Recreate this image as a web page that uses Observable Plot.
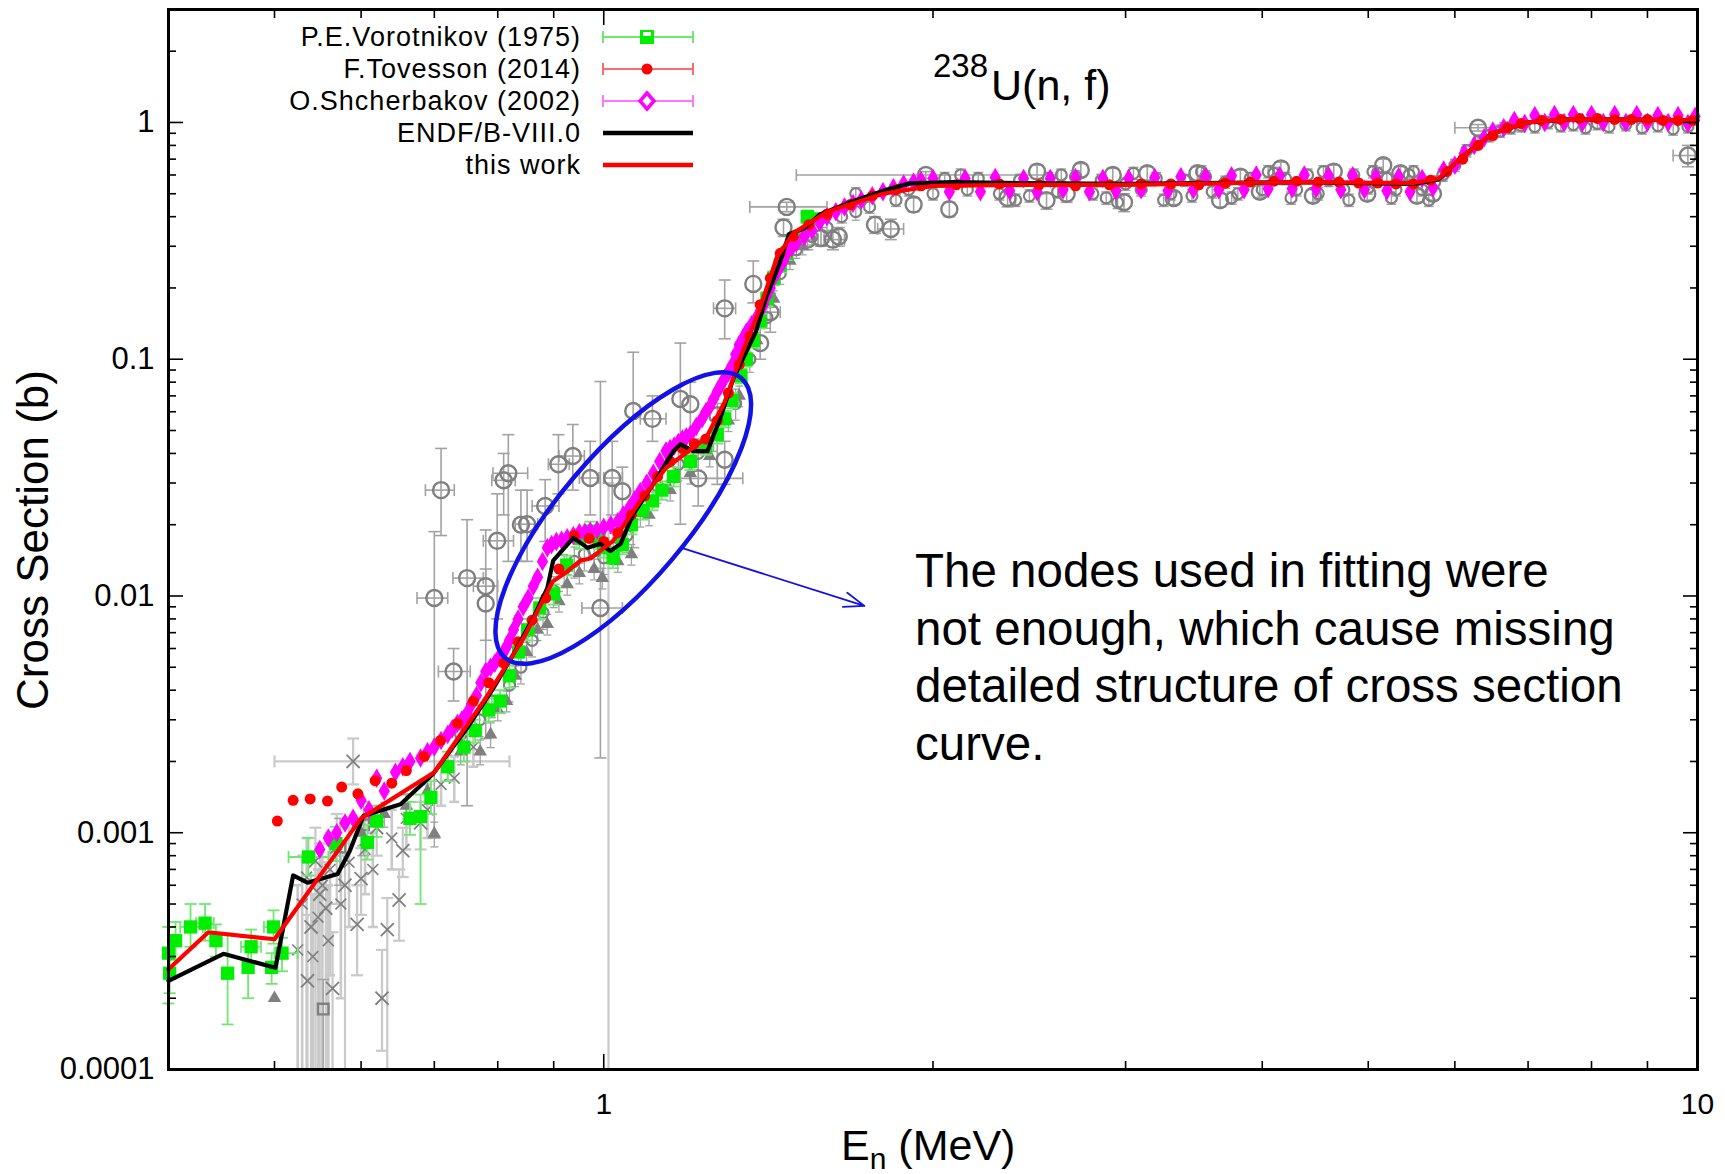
<!DOCTYPE html>
<html>
<head>
<meta charset="utf-8">
<script src="https://cdn.jsdelivr.net/npm/d3@7"></script>
<script src="https://cdn.jsdelivr.net/npm/@observablehq/plot@0.6"></script>
<style>
  html, body { margin: 0; padding: 0; background: #fff; }
  #chart { width: 1725px; height: 1174px; }
  #chart svg { display: block; }
</style>
</head>
<body>
<div id="chart"></div>
<script>
// ---------------- DATA ----------------
// "this work" evaluated curve (red line)
const thisWorkE  = [0.4, 0.435, 0.50, 0.60, 0.70, 0.78, 0.844, 0.898, 0.926, 0.952, 0.972, 1.02, 1.08, 1.14, 1.24, 1.29, 1.34, 1.39, 1.44, 1.49, 1.6, 1.8, 2.0, 2.4, 3.0, 4.3, 5.5, 5.8, 6.1, 6.5, 7.0, 7.6, 8.5, 10];
const thisWorkXS = [2.65e-4, 3.8e-4, 3.55e-4, 1.15e-3, 1.8e-3, 3.7e-3, 6.6e-3, 1.15e-2, 1.27e-2, 1.41e-2, 1.44e-2, 1.71e-2, 2.52e-2, 3.47e-2, 4.64e-2, 6.6e-2, 0.108, 0.165, 0.27, 0.34, 0.42, 0.50, 0.54, 0.545, 0.545, 0.56, 0.555, 0.58, 0.72, 0.9, 1.0, 1.03, 1.03, 1.02];

// ENDF/B-VIII.0 (black line)
const endfE  = [0.4, 0.449, 0.501, 0.52, 0.536, 0.571, 0.586, 0.603, 0.652, 0.698, 0.75, 0.793, 0.827, 0.862, 0.888, 0.899, 0.938, 0.966, 0.993, 1.014, 1.036, 1.064, 1.11, 1.158, 1.175, 1.207, 1.244, 1.278, 1.314, 1.378, 1.407, 1.447, 1.477, 1.525, 1.578, 1.69, 1.816, 1.905, 2.09, 2.4, 3.0, 4.3, 5.5, 5.8, 6.1, 6.5, 7.0, 7.6, 8.5, 10];
const endfXS = [2.37e-4, 3.08e-4, 2.69e-4, 6.6e-4, 6.15e-4, 6.7e-4, 8.4e-4, 1.18e-3, 1.32e-3, 1.77e-3, 2.77e-3, 4.09e-3, 5.69e-3, 8.07e-3, 1.08e-2, 1.41e-2, 1.76e-2, 1.6e-2, 1.66e-2, 1.55e-2, 1.66e-2, 2.22e-2, 2.97e-2, 4.09e-2, 4.38e-2, 4.09e-2, 4.09e-2, 5.64e-2, 8.3e-2, 0.131, 0.181, 0.252, 0.337, 0.357, 0.41, 0.465, 0.521, 0.553, 0.56, 0.555, 0.55, 0.56, 0.55, 0.575, 0.72, 0.9, 1.0, 1.03, 1.03, 1.02];

// P.E.Vorotnikov (1975): [E, xs, lo, hi, Elo, Ehi]
const vorotnikov = [
  [0.400, 3.1e-4, 1.9e-4, 4.0e-4, null, null],
  [0.401, 2.55e-4, 2.1e-4, 3.0e-4, null, null],
  [0.406, 3.5e-4, 2.9e-4, 4.2e-4, null, null],
  [0.419, 4.0e-4, 3.3e-4, 5.0e-4, 0.410, 0.430],
  [0.432, 4.15e-4, 3.5e-4, 5.0e-4, 0.424, 0.440],
  [0.442, 3.5e-4, 3.0e-4, 4.1e-4, null, null],
  [0.453, 2.55e-4, 1.55e-4, 3.75e-4, null, null],
  [0.473, 2.7e-4, 2.0e-4, 3.3e-4, null, null],
  [0.476, 3.3e-4, 2.8e-4, 3.9e-4, 0.466, 0.486],
  [0.497, 2.7e-4, 2.3e-4, 3.1e-4, null, null],
  [0.499, 4.0e-4, 3.4e-4, 4.7e-4, 0.489, 0.510],
  [0.508, 3.1e-4, 2.6e-4, 3.6e-4, 0.500, 0.525],
  [0.537, 7.9e-4, 6.6e-4, 9.5e-4, 0.515, 0.560],
  [0.569, 9.0e-4, 7.6e-4, 1.06e-3, null, null],
  [0.608, 9.1e-4, 7.7e-4, 1.08e-3, null, null],
  [0.620, 1.12e-3, 9.6e-4, 1.3e-3, null, null],
  [0.665, 1.15e-3, 9.8e-4, 1.35e-3, null, null],
  [0.680, 1.17e-3, 5.0e-4, 1.45e-3, null, null],
  [0.695, 1.41e-3, 1.2e-3, 1.65e-3, null, null],
  [0.720, 1.9e-3, 1.65e-3, 2.2e-3, null, null],
  [0.745, 2.3e-3, 2.0e-3, 2.6e-3, null, null],
  [0.763, 2.7e-3, 2.4e-3, 3.0e-3, null, null],
  [0.785, 3.3e-3, 2.95e-3, 3.7e-3, null, null],
  [0.804, 3.6e-3, 3.2e-3, 4.0e-3, null, null],
  [0.820, 4.6e-3, 4.1e-3, 5.1e-3, null, null],
  [0.836, 5.8e-3, 5.2e-3, 6.4e-3, null, null],
  [0.852, 7.2e-3, 6.5e-3, 8.0e-3, null, null],
  [0.874, 8.9e-3, 8.0e-3, 9.8e-3, null, null],
  [0.900, 1.02e-2, 9.2e-3, 1.12e-2, null, null],
  [0.925, 1.35e-2, 1.22e-2, 1.48e-2, null, null],
  [0.950, 1.75e-2, 1.58e-2, 1.92e-2, null, null],
  [0.972, 1.88e-2, 1.7e-2, 2.06e-2, null, null],
  [0.990, 1.75e-2, 1.58e-2, 1.92e-2, null, null],
  [1.000, 1.6e-2, 1.45e-2, 1.76e-2, null, null],
  [1.020, 1.45e-2, 1.31e-2, 1.6e-2, null, null],
  [1.040, 1.65e-2, 1.5e-2, 1.82e-2, null, null],
  [1.060, 2.0e-2, 1.82e-2, 2.2e-2, null, null],
  [1.085, 2.3e-2, 2.1e-2, 2.5e-2, null, null],
  [1.108, 2.52e-2, 2.3e-2, 2.75e-2, null, null],
  [1.130, 2.8e-2, 2.55e-2, 3.05e-2, null, null],
  [1.158, 3.2e-2, 2.9e-2, 3.5e-2, null, null],
  [1.200, 3.7e-2, 3.4e-2, 4.0e-2, null, null],
  [1.240, 4.3e-2, 3.95e-2, 4.65e-2, null, null],
  [1.270, 4.8e-2, 4.4e-2, 5.2e-2, null, null],
  [1.290, 5.6e-2, 5.15e-2, 6.05e-2, null, null],
  [1.310, 6.7e-2, 6.2e-2, 7.2e-2, null, null],
  [1.335, 8.5e-2, 7.9e-2, 9.1e-2, null, null],
  [1.350, 0.100, 0.093, 0.107, null, null],
  [1.370, 0.120, 0.112, 0.128, null, null],
  [1.390, 0.145, 0.135, 0.155, null, null],
  [1.410, 0.180, 0.168, 0.192, null, null],
  [1.430, 0.220, 0.205, 0.235, null, null],
  [1.450, 0.250, 0.233, 0.267, null, null],
  [1.470, 0.280, 0.262, 0.298, null, null],
  [1.510, 0.330, 0.31, 0.35, null, null],
  [1.535, 0.400, 0.375, 0.425, null, null],
  [1.560, 0.390, 0.365, 0.415, null, null]
];

// F.Tovesson (2014): [E, xs]
const tovesson = [
  [0.503,1.12e-3],[0.520,1.37e-3],[0.539,1.39e-3],[0.559,1.36e-3],[0.576,1.56e-3],[0.596,1.46e-3],[0.618,1.66e-3],[0.640,1.62e-3],
  [0.660,1.83e-3],[0.685,2.1e-3],[0.709,2.45e-3],[0.735,2.9e-3],[0.760,3.6e-3],[0.785,4.3e-3],[0.810,5.2e-3],[0.835,6.4e-3],
  [0.860,7.9e-3],[0.885,9.8e-3],[0.910,1.3e-2],[0.940,1.8e-2],[0.970,1.75e-2],[1.000,1.7e-2],[1.030,1.85e-2],[1.060,2.2e-2],
  [1.090,2.65e-2],[1.120,3.2e-2],[1.150,3.7e-2],[1.180,4.2e-2],[1.210,4.4e-2],[1.240,4.6e-2],[1.270,5.5e-2],[1.300,7.2e-2],
  [1.330,9.5e-2],[1.360,0.125],[1.390,0.17],[1.420,0.22],[1.450,0.28],[1.490,0.33],[1.540,0.37],[1.600,0.41],[1.680,0.45],
  [1.760,0.49],[1.850,0.52],[1.950,0.54],[2.10,0.545],[2.30,0.55],[2.50,0.545],[2.70,0.54],[2.90,0.545],[3.10,0.55],[3.30,0.55],
  [3.50,0.545],[3.70,0.555],[3.90,0.56],[4.10,0.565],[4.30,0.565],[4.50,0.56],[4.70,0.56],[4.90,0.555],[5.10,0.555],[5.30,0.55],
  [5.50,0.55],[5.70,0.57],[5.90,0.62],[6.10,0.70],[6.30,0.80],[6.50,0.88],[6.70,0.95],[6.90,0.99],[7.20,1.02],[7.50,1.03],
  [7.80,1.04],[8.10,1.04],[8.40,1.03],[8.70,1.03],[9.00,1.03],[9.30,1.02],[9.60,1.02],[9.90,1.02]
];

// O.Shcherbakov (2002): [E, xs]
const shcherbakov = [
  [0.55,8.5e-4],[0.56,9.5e-4],[0.57,1.0e-3],[0.58,1.1e-3],[0.59,1.15e-3],[0.60,1.37e-3],[0.61,1.25e-3],[0.62,1.7e-3],[0.63,1.5e-3],
  [0.645,1.8e-3],[0.655,1.9e-3],[0.665,2.0e-3],[0.68,2.07e-3],[0.69,2.2e-3],[0.70,2.3e-3],[0.71,2.45e-3],[0.72,2.6e-3],
  [0.727,2.75e-3],[0.735,2.9e-3],[0.742,3.0e-3],[0.75,3.2e-3],[0.757,3.5e-3],[0.765,3.8e-3],[0.772,4.3e-3],[0.78,4.8e-3],
  [0.788,5.0e-3],[0.795,5.2e-3],[0.802,5.5e-3],[0.81,5.8e-3],[0.815,6.1e-3],[0.82,6.5e-3],[0.827,7.2e-3],[0.835,8.0e-3],
  [0.844,9.0e-3],[0.853,9.8e-3],[0.862,1.1e-2],[0.87,1.2e-2],[0.879,1.4e-2],[0.888,1.6e-2],[0.896,1.65e-2],[0.905,1.7e-2],
  [0.915,1.72e-2],[0.926,1.76e-2],[0.938,1.8e-2],[0.95,1.85e-2],[0.961,1.86e-2],[0.972,1.88e-2],[0.986,1.9e-2],[1.0,1.95e-2],
  [1.015,2.0e-2],[1.03,2.06e-2],[1.042,2.2e-2],[1.055,2.35e-2],[1.067,2.55e-2],[1.08,2.76e-2],[1.095,3.0e-2],[1.11,3.3e-2],
  [1.125,3.7e-2],[1.14,4.1e-2],[1.15,4.2e-2],[1.16,4.3e-2],[1.17,4.45e-2],[1.18,4.6e-2],[1.19,4.7e-2],[1.2,4.8e-2],
  [1.215,5.2e-2],[1.23,5.6e-2],[1.24,6.0e-2],[1.25,6.3e-2],[1.26,6.8e-2],[1.27,7.3e-2],[1.28,7.8e-2],[1.29,8.3e-2],
  [1.30,8.8e-2],[1.31,9.4e-2],[1.32,0.105],[1.33,0.115],[1.34,0.122],[1.35,0.13],[1.365,0.14],[1.38,0.15],[1.39,0.16],
  [1.40,0.17],[1.41,0.185],[1.42,0.2],[1.43,0.22],[1.445,0.24],[1.46,0.26],[1.47,0.28],[1.485,0.295],[1.5,0.31],
  [1.525,0.33],[1.55,0.35],[1.575,0.38],[1.6,0.40],[1.63,0.42],[1.66,0.44],[1.69,0.455],[1.72,0.47],[1.76,0.49],[1.8,0.51],
  [1.84,0.53],[1.88,0.55],[1.92,0.56],[1.95,0.57],
  [2.0,0.58],[2.07,0.51],[2.14,0.58],[2.21,0.51],[2.28,0.585],[2.35,0.515],[2.42,0.58],[2.49,0.51],[2.56,0.58],[2.63,0.52],
  [2.7,0.585],[2.78,0.51],[2.86,0.58],[2.94,0.515],[3.02,0.58],[3.1,0.52],[3.19,0.585],[3.28,0.515],[3.37,0.59],[3.46,0.52],
  [3.55,0.59],[3.65,0.52],[3.75,0.595],[3.85,0.52],[3.95,0.60],[4.05,0.525],[4.15,0.595],[4.26,0.525],[4.37,0.60],[4.48,0.525],
  [4.6,0.595],[4.72,0.52],[4.84,0.595],[4.96,0.52],[5.08,0.59],[5.2,0.515],[5.33,0.59],[5.46,0.51],[5.6,0.58],[5.73,0.53],
  [5.86,0.63],[6.0,0.66],[6.12,0.74],[6.25,0.80],[6.38,0.86],[6.5,0.92],[6.65,0.95],[6.8,1.02],[6.95,0.99],[7.1,1.07],
  [7.25,1.0],[7.4,1.08],[7.55,1.0],[7.7,1.08],[7.85,1.0],[8.0,1.08],[8.2,1.0],[8.4,1.08],[8.6,1.0],[8.8,1.08],[9.0,1.0],
  [9.2,1.07],[9.4,1.0],[9.6,1.07],[9.8,0.99],[9.95,1.06]
];

// Other experiments (grey), open circles: [E, xs, lo, hi, Elo, Ehi]
const grayCircles = [
  [0.710, 0.028, 0.018, 0.042, 0.687, 0.730],
  [0.700, 0.0098, 0.00095, 0.0187, 0.675, 0.720],
  [0.729, 0.0048, 0.0036, 0.0060, 0.706, 0.755],
  [0.750, 0.0119, 0.0013, 0.021, 0.728, 0.776],
  [0.780, 0.0110, 0.0025, 0.019, 0.760, 0.800],
  [0.780, 0.0093, 0.0065, 0.013, null, null],
  [0.799, 0.0171, 0.008, 0.027, 0.776, 0.827],
  [0.818, 0.033, 0.014, 0.048, 0.792, 0.852],
  [0.810, 0.0308, 0.022, 0.040, 0.790, 0.830],
  [0.840, 0.020, 0.014, 0.028, null, null],
  [0.851, 0.0201, 0.014, 0.028, 0.830, 0.870],
  [0.884, 0.024, 0.017, 0.031, 0.860, 0.910],
  [0.909, 0.036, 0.027, 0.048, 0.890, 0.930],
  [0.937, 0.039, 0.028, 0.053, 0.910, 0.960],
  [0.972, 0.0315, 0.022, 0.045, 0.950, 0.990],
  [1.018, 0.0315, 0.022, 0.045, 1.000, 1.040],
  [0.993, 0.0089, 0.00207, 0.0805, 0.955, 1.040],
  [1.040, 0.0277, 0.020, 0.035, null, null],
  [1.064, 0.0604, 0.016, 0.107, null, null],
  [1.108, 0.056, 0.045, 0.070, 1.080, 1.140],
  [1.175, 0.068, 0.0201, 0.117, null, null],
  [1.200, 0.0645, 0.050, 0.080, null, null],
  [1.270, 0.058, 0.0296, 0.065, null, null],
  [1.220, 0.0314, 0.024, 0.040, 1.160, 1.340],
  [1.290, 0.0376, 0.0296, 0.045, null, null],
  [1.290, 0.164, 0.122, 0.216, 1.260, 1.320],
  [1.370, 0.208, 0.173, 0.260, null, null],
  [1.420, 0.158, 0.130, 0.190, 1.390, 1.450],
  [1.390, 0.117, 0.100, 0.135, null, null],
  [1.460, 0.360, 0.330, 0.390, null, null],
  [1.470, 0.440, 0.420, 0.460, 1.360, 1.600],
  [1.535, 0.320, 0.290, 0.350, 1.500, 1.570],
  [1.580, 0.325, 0.300, 0.360, null, null],
  [1.620, 0.320, 0.290, 0.350, 1.590, 1.660],
  [1.640, 0.330, 0.300, 0.360, null, null],
  [1.770, 0.370, 0.340, 0.400, null, null],
  [1.830, 0.355, 0.320, 0.390, 1.780, 1.880],
  [1.920, 0.450, 0.420, 0.480, null, null],
  [1.970, 0.600, 0.580, 0.620, 1.500, 2.600],
  [2.070, 0.430, 0.400, 0.460, null, null],
  [2.34, 0.48, 0.44, 0.52, null, null],
  [2.49, 0.62, 0.58, 0.66, null, null],
  [2.54, 0.47, 0.43, 0.50, null, null],
  [2.65, 0.50, 0.46, 0.54, null, null],
  [2.73, 0.63, 0.59, 0.67, null, null],
  [2.92, 0.60, 0.56, 0.64, null, null],
  [2.99, 0.46, 0.42, 0.50, null, null],
  [3.14, 0.61, 0.57, 0.65, null, null],
  [3.32, 0.48, 0.45, 0.51, null, null],
  [3.49, 0.61, 0.57, 0.65, null, null],
  [3.66, 0.47, 0.44, 0.50, null, null],
  [3.82, 0.59, 0.55, 0.63, null, null],
  [3.98, 0.51, 0.48, 0.54, null, null],
  [4.16, 0.64, 0.60, 0.68, null, null],
  [4.45, 0.49, 0.46, 0.52, null, null],
  [4.65, 0.62, 0.58, 0.66, null, null],
  [4.99, 0.50, 0.47, 0.53, null, null],
  [5.16, 0.66, 0.62, 0.70, null, null],
  [5.35, 0.61, 0.57, 0.65, null, null],
  [5.54, 0.49, 0.46, 0.52, null, null],
  [5.73, 0.50, 0.47, 0.53, null, null],
  [6.30, 0.95, 0.92, 0.98, 6.00, 6.60],
  [9.80, 0.725, 0.65, 0.80, 9.50, 10.0]
];

// grey filled triangles near the curve: [E, xs, relErr]
const grayTriangles = [
  [0.50,2.0e-4,0.0],[0.60,1.0e-3,0.12],[0.63,1.2e-3,0.12],[0.66,1.3e-3,0.12],[0.69,1.5e-3,0.12],[0.70,9.9e-4,0.12],
  [0.72,1.9e-3,0.12],[0.74,2.2e-3,0.12],[0.771,2.2e-3,0.12],[0.788,2.6e-3,0.12],[0.80,3.3e-3,0.1],[0.815,3.6e-3,0.1],
  [0.83,4.6e-3,0.1],[0.85,5.8e-3,0.1],[0.87,7.2e-3,0.1],[0.888,7.6e-3,0.1],[0.91,9.5e-3,0.1],[0.926,1.12e-2,0.1],
  [0.95,1.25e-2,0.1],[0.98,1.3e-2,0.1],[0.997,1.19e-2,0.1],[1.03,1.4e-2,0.1],[1.06,1.5e-2,0.1],[1.10,2.2e-2,0.1],
  [1.15,2.8e-2,0.1],[1.20,3.3e-2,0.1],[1.25,3.9e-2,0.1],[1.30,5.5e-2,0.1],[1.33,7.0e-2,0.1],[1.38,0.12,0.08],
  [1.43,0.18,0.08],[1.48,0.26,0.08],[1.52,0.30,0.08]
];

// grey crosses (low energy, large errors): [E, xs, lo, hi, Elo, Ehi]
const grayCrosses = [
  [0.536, 2.37e-4, 1.0e-4, 4.5e-4, null, null],
  [0.565, 2.2e-4, 1.0e-4, 3.8e-4, null, null],
  [0.595, 4.1e-4, 2.5e-4, 6.0e-4, null, null],
  [0.634, 3.9e-4, 1.0e-4, 5.3e-4, null, null],
  [0.627, 2.0e-4, 1.2e-4, 3.2e-4, null, null],
  [0.540, 4.0e-4, 1.0e-4, 6.6e-4, null, null],
  [0.557, 4.8e-4, 1.0e-4, 7.5e-4, null, null],
  [0.600, 6.4e-4, 4.5e-4, 8.6e-4, null, null],
  [0.650, 5.2e-4, 3.5e-4, 7.0e-4, null, null],
  [0.655, 8.4e-4, 6.5e-4, 1.05e-3, null, null],
  [0.570, 8.7e-4, 5.0e-4, 1.2e-3, null, null],
  [0.580, 6.0e-4, 1.0e-4, 9.0e-4, null, null],
  [0.550, 5.5e-4, 1.0e-4, 9.0e-4, null, null],
  [0.620, 1.05e-3, 8.0e-4, 1.3e-3, null, null],
  [0.680, 1.1e-3, 8.5e-4, 1.35e-3, null, null],
  [0.545, 7.6e-4, 1.0e-4, 1.05e-3, null, null],
  [0.590, 2.0e-3, 1.6e-3, 2.5e-3, 0.500, 0.820],
  [1.010, 1.65e-2, 1.0e-4, 3.0e-2, null, null]
];

// grey low-energy cluster with long error bars: [E, xs, lo, hi]
const grayCluster = [
  [0.525, 3.2e-4, 1.0e-4, 6.0e-4], [0.530, 5.0e-4, 1.0e-4, 8.0e-4], [0.535, 6.5e-4, 1.0e-4, 9.5e-4],
  [0.542, 3.0e-4, 1.0e-4, 5.5e-4], [0.548, 4.4e-4, 1.0e-4, 7.0e-4], [0.553, 6.0e-4, 1.0e-4, 9.0e-4],
  [0.560, 3.5e-4, 1.0e-4, 6.0e-4], [0.562, 7.0e-4, 2.5e-4, 1.0e-3], [0.575, 5.0e-4, 2.0e-4, 8.0e-4],
  [0.585, 7.5e-4, 4.0e-4, 1.05e-3], [0.605, 8.5e-4, 5.5e-4, 1.15e-3], [0.615, 7.0e-4, 4.0e-4, 1.0e-3],
  [0.640, 9.5e-4, 7.0e-4, 1.25e-3], [0.660, 1.15e-3, 8.5e-4, 1.45e-3], [0.690, 1.25e-3, 9.5e-4, 1.6e-3],
  [0.710, 1.6e-3, 1.3e-3, 1.95e-3], [0.730, 1.7e-3, 1.35e-3, 2.1e-3], [0.760, 2.3e-3, 1.9e-3, 2.7e-3]
];

// grey open squares: [E, xs, lo, hi]
const graySquares = [
  [0.554, 1.8e-4, 1.0e-4, 2.4e-4], [0.603, 1.08e-3, 8.0e-4, 1.35e-3], [0.574, 8.7e-4, 6.0e-4, 1.15e-3]
];

// grey small circles near the rising curve: [E, xs, relErr]
const grayNear = [
  [0.74,2.6e-3,0.15],[0.77,3.0e-3,0.15],[0.79,3.6e-3,0.15],[0.82,4.2e-3,0.15],[0.84,5.0e-3,0.15],[0.86,6.5e-3,0.15],
  [0.88,8.5e-3,0.15],[0.90,1.05e-2,0.15],[0.92,1.3e-2,0.15],[0.94,1.4e-2,0.15],[0.96,1.5e-2,0.15],[0.98,1.55e-2,0.15],
  [1.00,1.45e-2,0.15],[1.02,1.6e-2,0.15],[1.05,1.8e-2,0.15],[1.08,2.3e-2,0.15],[1.12,2.9e-2,0.15],[1.17,3.6e-2,0.15],
  [1.22,4.0e-2,0.15],[1.26,4.8e-2,0.15],[1.32,6.5e-2,0.15],[1.36,0.10,0.12],[1.41,0.15,0.10],[1.45,0.23,0.10],
  [1.50,0.29,0.08],[1.55,0.33,0.08],[1.60,0.36,0.08],[1.70,0.42,0.08]
];

// grey small markers scattered around the plateau: [E, xs, relErr]
const grayBand = [
  [1.65,0.40,0.06],[1.70,0.50,0.06],[1.75,0.44,0.06],[1.85,0.47,0.06],[1.90,0.52,0.06],[2.00,0.50,0.06],[2.05,0.58,0.06],
  [2.12,0.60,0.06],[2.15,0.52,0.06],[2.20,0.58,0.06],[2.30,0.50,0.06],[2.38,0.47,0.06],[2.40,0.57,0.06],[2.45,0.49,0.06],
  [2.55,0.58,0.06],[2.60,0.51,0.06],[2.62,0.60,0.06],[2.70,0.59,0.06],[2.80,0.50,0.06],[2.85,0.57,0.06],[2.88,0.48,0.06],
  [2.95,0.46,0.06],[3.00,0.55,0.06],[3.05,0.61,0.06],[3.10,0.52,0.06],[3.20,0.58,0.06],[3.25,0.47,0.06],[3.30,0.50,0.06],
  [3.40,0.57,0.06],[3.45,0.49,0.06],[3.52,0.62,0.06],[3.55,0.59,0.06],[3.60,0.51,0.06],[3.70,0.56,0.06],[3.75,0.48,0.06],
  [3.80,0.50,0.06],[3.90,0.58,0.06],[4.00,0.52,0.06],[4.05,0.62,0.06],[4.10,0.61,0.06],[4.20,0.58,0.06],[4.25,0.48,0.06],
  [4.30,0.52,0.06],[4.40,0.60,0.06],[4.50,0.50,0.06],[4.55,0.62,0.06],[4.60,0.57,0.06],[4.75,0.52,0.06],[4.80,0.47,0.06],
  [4.85,0.60,0.06],[5.00,0.53,0.06],[5.05,0.62,0.06],[5.10,0.61,0.06],[5.20,0.58,0.06],[5.25,0.48,0.06],[5.30,0.52,0.06],
  [5.45,0.60,0.06],[5.50,0.62,0.06],[5.60,0.52,0.06],[5.68,0.47,0.06],[5.75,0.56,0.06],[5.85,0.60,0.06],[6.00,0.66,0.06],
  [6.15,0.76,0.06],[6.30,0.83,0.06],[6.45,0.88,0.06],[6.60,0.92,0.06],[6.75,0.95,0.06],[6.90,0.97,0.06],[7.10,0.96,0.06],
  [7.30,1.00,0.06],[7.50,0.97,0.06],[7.70,0.98,0.06],[7.90,0.95,0.06],[8.10,0.99,0.06],[8.30,0.96,0.06],[8.60,0.98,0.06],
  [8.90,0.95,0.06],[9.20,0.97,0.06],[9.50,0.94,0.06],[9.80,0.96,0.06]
];

// axis ticks & labels
const xMajor = [1, 10];
const xMajorLabels = ["1", "10"];
const xMinor = [0.5, 0.6, 0.7, 0.8, 0.9, 2, 3, 4, 5, 6, 7, 8, 9];
const yMajor = [1e-4, 1e-3, 1e-2, 0.1, 1];
const yMajorLabels = ["0.0001", "0.001", "0.01", "0.1", "1"];
const yMinor = [2e-4,3e-4,4e-4,5e-4,6e-4,7e-4,8e-4,9e-4, 2e-3,3e-3,4e-3,5e-3,6e-3,7e-3,8e-3,9e-3,
                0.02,0.03,0.04,0.05,0.06,0.07,0.08,0.09, 0.2,0.3,0.4,0.5,0.6,0.7,0.8,0.9, 2];

// legend entries
const legendLabels = ["P.E.Vorotnikov (1975)", "F.Tovesson (2014)", "O.Shcherbakov (2002)", "ENDF/B-VIII.0", "this work"];

// annotation
const annotationLines = ["The nodes used in fitting were", "not enough, which cause missing", "detailed structure of cross section", "curve."];
const ellipseCenter = [1.043, 0.02124];   // (E, xs) of the ellipse centre
const arrowAnno = {x1: 1.18, y1: 0.01594, x2: 1.731, y2: 0.00908};

// ---------------- BUILD ----------------
const FONT = "'Liberation Sans', Arial, Helvetica, sans-serif";
const C_GREEN = "#00ee00", C_GREEN_BAR = "#6fe86f";
const C_RED = "#ff0000", C_RED_BAR = "#ff6a6a";
const C_MAG = "#ff00ff", C_MAG_BAR = "#ff77ff";
const C_GRAY = "#7f7f7f", C_GRAY_BAR = "#a2a2a2", C_GRAY_LIGHT = "#c9c9c9";
const C_BLUE = "#1212e6";

const capH = {draw(ctx, size) { const r = Math.sqrt(size / Math.PI); ctx.moveTo(-r, 0); ctx.lineTo(r, 0); }};
const capV = {draw(ctx, size) { const r = Math.sqrt(size / Math.PI); ctx.moveTo(0, -r); ctx.lineTo(0, r); }};

const relToAbs = rows => rows.map(d => [d[0], d[1], d[1] * (1 - d[2]), d[1] * (1 + d[2]), null, null]);

function errorMarks(data, color, capR, width) {
  const vd = data.filter(d => d[2] != null && d[3] != null && d[3] > d[2]);
  const xd = data.filter(d => d[4] != null);
  return [
    Plot.ruleX(vd, {x: d => d[0], y1: d => d[2], y2: d => d[3], stroke: color, strokeWidth: width}),
    Plot.dot(vd, {x: d => d[0], y: d => d[2], symbol: capH, r: capR, stroke: color, strokeWidth: width}),
    Plot.dot(vd, {x: d => d[0], y: d => d[3], symbol: capH, r: capR, stroke: color, strokeWidth: width}),
    Plot.ruleY(xd, {y: d => d[1], x1: d => d[4], x2: d => d[5], stroke: color, strokeWidth: width}),
    Plot.dot(xd, {x: d => d[4], y: d => d[1], symbol: capV, r: capR, stroke: color, strokeWidth: width}),
    Plot.dot(xd, {x: d => d[5], y: d => d[1], symbol: capV, r: capR, stroke: color, strokeWidth: width})
  ];
}

const thisWork = thisWorkE.map((e, i) => ({e, xs: thisWorkXS[i]}));
const endf = endfE.map((e, i) => ({e, xs: endfXS[i]}));
const triAbs = relToAbs(grayTriangles);
const bandAbs = relToAbs(grayBand);
const nearAbs = relToAbs(grayNear);
const tovAbs = tovesson.map(d => [d[0], d[1], d[1] * 0.96, d[1] * 1.04, null, null]);
const magAbs = shcherbakov.map(d => [d[0], d[1], d[1] * 0.97, d[1] * 1.03, null, null]);

const tickStyle = {stroke: "#000", strokeWidth: 1.6};

const chart = Plot.plot({
  width: 1725,
  height: 1174,
  marginLeft: 168,
  marginRight: 28,
  marginTop: 9,
  marginBottom: 105,
  style: {fontFamily: FONT, background: "#fff", color: "#000", overflow: "visible"},
  x: {type: "log", domain: [0.4, 10], axis: null},
  y: {type: "log", domain: [1e-4, 3], axis: null},
  marks: [
    // grey experiments
    ...errorMarks(grayCluster, C_GRAY_LIGHT, 5, 2.6),
    ...errorMarks(grayCrosses, C_GRAY_LIGHT, 6, 2.2),
    ...errorMarks(graySquares, C_GRAY_BAR, 6, 1.5),
    ...errorMarks(grayCircles, C_GRAY_BAR, 6, 1.6),
    ...errorMarks(triAbs, C_GRAY_BAR, 4, 1.3),
    ...errorMarks(nearAbs, C_GRAY_BAR, 4, 1.3),
    ...errorMarks(bandAbs, C_GRAY_BAR, 5, 1.4),
    Plot.dot(grayCluster, {x: d => d[0], y: d => d[1], r: 5, symbol: "times", stroke: C_GRAY, strokeWidth: 1.6}),
    Plot.dot(nearAbs, {x: d => d[0], y: d => d[1], r: 5.5, stroke: C_GRAY, strokeWidth: 2.2, fill: "none"}),
    Plot.dot(bandAbs, {x: d => d[0], y: d => d[1], r: 5.5, stroke: C_GRAY, strokeWidth: 2.2, fill: "none"}),
    Plot.dot(grayCircles, {x: d => d[0], y: d => d[1], r: 8, stroke: C_GRAY, strokeWidth: 2.4, fill: "none"}),
    Plot.dot(grayCrosses, {x: d => d[0], y: d => d[1], r: 6, symbol: "times", stroke: C_GRAY, strokeWidth: 1.8}),
    Plot.dot(graySquares, {x: d => d[0], y: d => d[1], r: 6, symbol: "square", stroke: C_GRAY, strokeWidth: 2.4, fill: "none"}),
    Plot.dot(triAbs, {x: d => d[0], y: d => d[1], r: 5, symbol: "triangle", fill: C_GRAY}),
    // Vorotnikov
    ...errorMarks(vorotnikov, C_GREEN_BAR, 6, 1.8),
    Plot.dot(vorotnikov, {x: d => d[0], y: d => d[1], r: 7.5, symbol: "square", fill: C_GREEN}),
    // Shcherbakov
    ...errorMarks(magAbs, C_MAG_BAR, 4, 1.4),
    Plot.dot(shcherbakov, {x: d => d[0], y: d => d[1], r: 5, symbol: "diamond", fill: C_MAG, stroke: C_MAG, strokeWidth: 1.5}),
    // Tovesson
    ...errorMarks(tovAbs, C_RED_BAR, 3, 1.2),
    Plot.dot(tovesson, {x: d => d[0], y: d => d[1], r: 5.5, fill: C_RED}),
    // evaluations
    Plot.line(endf, {x: "e", y: "xs", stroke: "#000", strokeWidth: 4.2}),
    Plot.line(thisWork, {x: "e", y: "xs", stroke: C_RED, strokeWidth: 4.2}),
    // annotation arrow
    Plot.arrow([arrowAnno], {x1: "x1", y1: "y1", x2: "x2", y2: "y2", stroke: C_BLUE, strokeWidth: 1.8, headLength: 18, headAngle: 40}),
    // frame
    Plot.frame({stroke: "#000", strokeWidth: 3}),
    // inward ticks (mirrored on all sides)
    Plot.axisX({ticks: xMajor, anchor: "bottom", tickSize: 15, dy: -15, tickFormat: () => "", ...tickStyle}),
    Plot.axisX({ticks: xMinor, anchor: "bottom", tickSize: 8, dy: -8, tickFormat: () => "", ...tickStyle}),
    Plot.axisX({ticks: xMajor, anchor: "top", tickSize: 15, dy: 15, tickFormat: () => "", ...tickStyle}),
    Plot.axisX({ticks: xMinor, anchor: "top", tickSize: 8, dy: 8, tickFormat: () => "", ...tickStyle}),
    Plot.axisY({ticks: yMajor, anchor: "left", tickSize: 15, dx: 15, tickFormat: () => "", ...tickStyle}),
    Plot.axisY({ticks: yMinor, anchor: "left", tickSize: 8, dx: 8, tickFormat: () => "", ...tickStyle}),
    Plot.axisY({ticks: yMajor, anchor: "right", tickSize: 15, dx: -15, tickFormat: () => "", ...tickStyle}),
    Plot.axisY({ticks: yMinor, anchor: "right", tickSize: 8, dx: -8, tickFormat: () => "", ...tickStyle}),
    // tick labels
    Plot.axisX({ticks: xMajor, anchor: "bottom", tickSize: 0, tickPadding: 23, fontSize: 30, label: null,
      tickFormat: d => xMajorLabels[xMajor.indexOf(d)]}),
    Plot.axisY({ticks: yMajor, anchor: "left", tickSize: 0, tickPadding: 14, fontSize: 31, label: null,
      tickFormat: d => yMajorLabels[yMajor.indexOf(d)]})
  ]
});

document.getElementById("chart").appendChild(chart);

// ---------------- overlays (text, legend, ellipse) ----------------
const svg = d3.select(chart);
const sx = chart.scale("x"), sy = chart.scale("y");

// ellipse around the region of interest
{
  const cx = sx.apply(ellipseCenter[0]), cy = sy.apply(ellipseCenter[1]);
  svg.append("ellipse")
    .attr("cx", cx).attr("cy", cy).attr("rx", 183).attr("ry", 64)
    .attr("transform", `rotate(-49.8 ${cx} ${cy})`)
    .attr("fill", "none").attr("stroke", C_BLUE).attr("stroke-width", 4.5);
}

// axis titles
svg.append("text")
  .attr("transform", "translate(48,540) rotate(-90)")
  .attr("text-anchor", "middle")
  .attr("font-family", FONT).attr("font-size", 44).attr("fill", "#000")
  .text("Cross Section (b)");

{
  const t = svg.append("text").attr("x", 841).attr("y", 1160).attr("text-anchor", "start")
    .attr("font-family", FONT).attr("font-size", 43).attr("fill", "#000");
  t.append("tspan").text("E");
  t.append("tspan").attr("font-size", 30).attr("dy", 9).text("n");
  t.append("tspan").attr("dy", -9).text(" (MeV)");
}

// reaction title
{
  const t = svg.append("text").attr("x", 933).attr("y", 100).attr("text-anchor", "start")
    .attr("font-family", FONT).attr("fill", "#000");
  t.append("tspan").attr("font-size", 33).attr("dy", -23).text("238");
  t.append("tspan").attr("font-size", 43).attr("dy", 23).attr("dx", 3).text("U(n, f)");
}

// annotation text
{
  const t = svg.append("text").attr("font-family", FONT).attr("font-size", 47.5).attr("fill", "#000")
    .attr("text-anchor", "start");
  annotationLines.forEach((line, i) => {
    t.append("tspan").attr("x", 915).attr("y", 587 + i * 57.7).text(line);
  });
}

// legend
{
  const g = svg.append("g");
  const rowY = i => 37 + i * 32;
  const xs0 = 603, xs1 = 693, xm = 647;
  legendLabels.forEach((lab, i) => {
    g.append("text").attr("x", 581).attr("y", rowY(i)).attr("dy", "0.35em")
      .attr("text-anchor", "end").attr("font-family", FONT).attr("font-size", 27)
      .attr("letter-spacing", 1).attr("fill", "#000")
      .text(lab);
  });
  const barColors = [C_GREEN_BAR, C_RED_BAR, C_MAG_BAR];
  barColors.forEach((c, i) => {
    const y = rowY(i);
    g.append("line").attr("x1", xs0).attr("x2", xs1).attr("y1", y).attr("y2", y).attr("stroke", c).attr("stroke-width", 2);
    g.append("line").attr("x1", xs0).attr("x2", xs0).attr("y1", y - 6).attr("y2", y + 6).attr("stroke", c).attr("stroke-width", 2);
    g.append("line").attr("x1", xs1).attr("x2", xs1).attr("y1", y - 6).attr("y2", y + 6).attr("stroke", c).attr("stroke-width", 2);
  });
  // markers
  g.append("rect").attr("x", xm - 7).attr("y", rowY(0) - 7).attr("width", 14).attr("height", 14).attr("fill", C_GREEN);
  g.append("rect").attr("x", xm - 4).attr("y", rowY(0) - 5).attr("width", 8).attr("height", 4).attr("fill", "#fff");
  g.append("circle").attr("cx", xm).attr("cy", rowY(1)).attr("r", 5.5).attr("fill", C_RED);
  g.append("path").attr("d", `M${xm},${rowY(2) - 8}L${xm + 7},${rowY(2)}L${xm},${rowY(2) + 8}L${xm - 7},${rowY(2)}Z`)
    .attr("fill", "#fff").attr("stroke", C_MAG).attr("stroke-width", 3.5);
  g.append("line").attr("x1", xs0).attr("x2", xs1).attr("y1", rowY(3)).attr("y2", rowY(3)).attr("stroke", "#000").attr("stroke-width", 4.5);
  g.append("line").attr("x1", xs0).attr("x2", xs1).attr("y1", rowY(4)).attr("y2", rowY(4)).attr("stroke", C_RED).attr("stroke-width", 4.5);
}
</script>
</body>
</html>
